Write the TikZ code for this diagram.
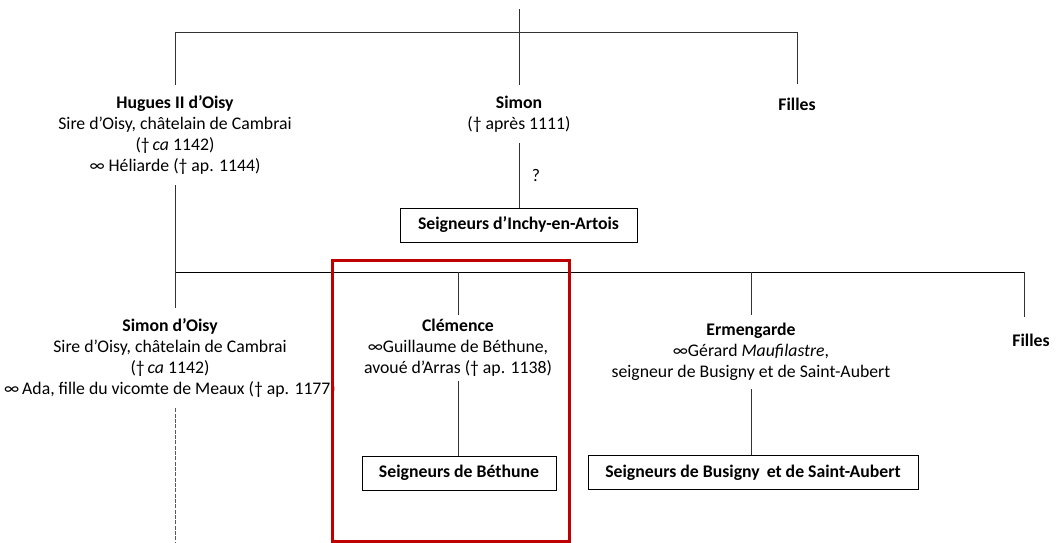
\documentclass[tikz,border=0pt]{standalone}
\usepackage{fontspec}
\setmainfont{Carlito}
\begin{document}
\begin{tikzpicture}[x=0.75pt,y=-0.75pt,
    every node/.style={font=\fontsize{13.3}{15.75}\selectfont},
    person/.style={align=center,inner xsep=2pt,inner ysep=8pt},
    lineage/.style={draw,line width=0.75pt,font=\fontsize{13.3}{15.75}\selectfont\bfseries,
      minimum height=25.5pt,inner sep=0pt},
    link/.style={line width=0.75pt,draw=black!80},
    uncertain/.style={link,draw=black!65,dash pattern=on 3pt off 1pt},
    highlight/.style={line width=2.25pt,draw=red!75!black}]
  \useasboundingbox (0,0) rectangle (1061,543);
  % first generation
  \coordinate (root) at (519,9);
  \coordinate (bar1) at (519,32);
  \coordinate (bar1w) at (175,32);
  \coordinate (bar1e) at (797,32);
  \node[person] (hugues) at (175,135)
    {\textbf{Hugues II d’Oisy}\\Sire d’Oisy, châtelain de Cambrai\\(†\,\textit{ca} 1142)\\∞ Héliarde († ap. 1144)};
  \node[person] (simon) at (519,114)
    {\textbf{Simon}\\(† après 1111)};
  \node[person,inner ysep=10pt] (fillesA) at (797,104) {\textbf{Filles}};
  \node[lineage,minimum width=177.75pt] (inchy) at (518.5,225) {Seigneurs d’Inchy-en-Artois};
  % second generation
  \coordinate (bar2w) at (175,272);
  \coordinate (bar2c) at (458,272);
  \coordinate (bar2m) at (751,272);
  \coordinate (bar2e) at (1024,272);
  \node[person] (simondoisy) at (170,358)
    {\textbf{Simon d’Oisy}\\Sire d’Oisy, châtelain de Cambrai\\(†\,\textit{ca} 1142)\\∞\,Ada, fille du vicomte de Meaux († ap. 1177)};
  \node[person,inner ysep=3pt] (clemence) at (458,348)
    {\textbf{Clémence}\\∞Guillaume de Béthune,\\avoué d’Arras († ap. 1138)};
  \node[person,inner ysep=6pt] (ermengarde) at (751,352)
    {\textbf{Ermengarde}\\∞Gérard \textit{Maufilastre},\\seigneur de Busigny et de Saint-Aubert};
  \node[person,inner ysep=12pt] (fillesB) at (1031,340) {\textbf{Filles}};
  \node[lineage,minimum width=145.5pt] (bethune) at (459,473) {Seigneurs de Béthune};
  \node[lineage,minimum width=247.5pt] (busigny) at (753,472.5) {Seigneurs de Busigny \,et de Saint-Aubert};
  \coordinate (dashend) at (175,543);
  % connectors
  \draw[link] (root) -- (root |- simon.north);
  \draw[link] (bar1w) -- (bar1e);
  \draw[link] (bar1w) -- (bar1w |- hugues.north);
  \draw[link] (bar1e) -- (bar1e |- fillesA.north);
  \draw[link] (simon.south) -- node[right=6pt] {?} (inchy.north -| simon.south);
  \draw[link] (hugues.south) -- (bar2w);
  \draw[link,draw=black] (bar2w) -- (bar2e);
  \draw[link] (bar2w) -- (bar2w |- simondoisy.north);
  \draw[link] (bar2c) -- (bar2c |- clemence.north);
  \draw[link] (bar2m) -- (bar2m |- ermengarde.north);
  \draw[link] (bar2e) -- (bar2e |- fillesB.north);
  \draw[link] (clemence.south) -- (bethune.north -| clemence.south);
  \draw[link] (ermengarde.south) -- (busigny.north -| ermengarde.south);
  \draw[uncertain] (bar2w |- simondoisy.south) -- (dashend);
  % highlighted branch
  \draw[highlight] (332,260) rectangle (569,541);
\end{tikzpicture}
\end{document}
